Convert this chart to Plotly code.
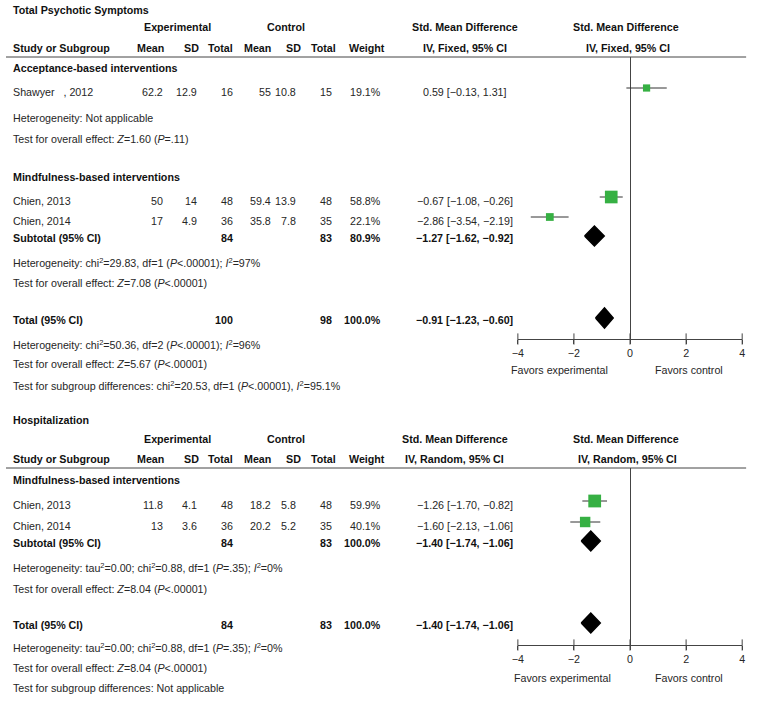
import plotly.graph_objects as go

W, H = 760, 703

# ---------------- DATA: Total Psychotic Symptoms ----------------
p1_title = "Total Psychotic Symptoms"
p1_method = "IV, Fixed, 95% CI"
p1_groups = ["Acceptance-based interventions", "Mindfulness-based interventions"]
p1_study = ["Shawyer\u00a0\u00a0\u00a0, 2012", "Chien, 2013", "Chien, 2014"]
p1_exp_mean = [62.2, 50, 17]
p1_exp_sd = [12.9, 14, 4.9]
p1_exp_n = [16, 48, 36]
p1_ctl_mean = [55, 59.4, 35.8]
p1_ctl_sd = [10.8, 13.9, 7.8]
p1_ctl_n = [15, 48, 35]
p1_weight = [19.1, 58.8, 22.1]
p1_smd = [0.59, -0.67, -2.86]
p1_lo = [-0.13, -1.08, -3.54]
p1_hi = [1.31, -0.26, -2.19]
p1_pool_label = ["Subtotal (95% CI)", "Total (95% CI)"]
p1_pool_exp_n = [84, 100]
p1_pool_ctl_n = [83, 98]
p1_pool_weight = [80.9, 100.0]
p1_pool_smd = [-1.27, -0.91]
p1_pool_lo = [-1.62, -1.23]
p1_pool_hi = [-0.92, -0.60]
p1_notes = [
    "Heterogeneity: Not applicable",
    "Test for overall effect: <i>Z</i>=1.60 (<i>P</i>=.11)",
    "Heterogeneity: chi<sup>2</sup>=29.83, df=1 (<i>P</i>&lt;.00001); <i>I</i><sup>2</sup>=97%",
    "Test for overall effect: <i>Z</i>=7.08 (<i>P</i>&lt;.00001)",
    "Heterogeneity: chi<sup>2</sup>=50.36, df=2 (<i>P</i>&lt;.00001); <i>I</i><sup>2</sup>=96%",
    "Test for overall effect: <i>Z</i>=5.67 (<i>P</i>&lt;.00001)",
    "Test for subgroup differences: chi<sup>2</sup>=20.53, df=1 (<i>P</i>&lt;.00001), <i>I</i><sup>2</sup>=95.1%",
]

# ---------------- DATA: Hospitalization ----------------
p2_title = "Hospitalization"
p2_method = "IV, Random, 95% CI"
p2_groups = ["Mindfulness-based interventions"]
p2_study = ["Chien, 2013", "Chien, 2014"]
p2_exp_mean = [11.8, 13]
p2_exp_sd = [4.1, 3.6]
p2_exp_n = [48, 36]
p2_ctl_mean = [18.2, 20.2]
p2_ctl_sd = [5.8, 5.2]
p2_ctl_n = [48, 35]
p2_weight = [59.9, 40.1]
p2_smd = [-1.26, -1.60]
p2_lo = [-1.70, -2.13]
p2_hi = [-0.82, -1.06]
p2_pool_label = ["Subtotal (95% CI)", "Total (95% CI)"]
p2_pool_exp_n = [84, 84]
p2_pool_ctl_n = [83, 83]
p2_pool_weight = [100.0, 100.0]
p2_pool_smd = [-1.40, -1.40]
p2_pool_lo = [-1.74, -1.74]
p2_pool_hi = [-1.06, -1.06]
p2_notes = [
    "Heterogeneity: tau<sup>2</sup>=0.00; chi<sup>2</sup>=0.88, df=1 (<i>P</i>=.35); <i>I</i><sup>2</sup>=0%",
    "Test for overall effect: <i>Z</i>=8.04 (<i>P</i>&lt;.00001)",
    "Heterogeneity: tau<sup>2</sup>=0.00; chi<sup>2</sup>=0.88, df=1 (<i>P</i>=.35); <i>I</i><sup>2</sup>=0%",
    "Test for overall effect: <i>Z</i>=8.04 (<i>P</i>&lt;.00001)",
    "Test for subgroup differences: Not applicable",
]

col_headers = ["Mean", "SD", "Total", "Mean", "SD", "Total", "Weight"]
axis_ticks = [-4, -2, 0, 2, 4]
favors = ["Favors experimental", "Favors control"]

# ---------------- LAYOUT / STYLE ----------------
FONT = "Arial, 'Liberation Sans', sans-serif"
FS = 10.7
TXT = "#262626"
BLD = "#111111"
GREEN = "#36b043"
LINE = "#444444"

col_right = [160, 194, 231, 269, 294, 331, 380]
col_center = [146, 188, 217, 255, 291, 321, 365]
X_LEFT = 6
PLOT_L, PLOT_R = 518, 745

annotations = []
shapes = []


def px(x):
    return x / W


def py(y):
    return 1 - y / H


def txt(x, y, s, anchor="left", bold=False):
    annotations.append(dict(
        x=px(x), y=py(y), xref="paper", yref="paper", text=("<b>%s</b>" % s) if bold else s,
        showarrow=False, xanchor=anchor, yanchor="middle", borderpad=0,
        font=dict(family=FONT, size=FS, color=BLD if bold else TXT)))


def fnum(v):
    return ("%g" % v).replace("-", "\u2212")


def fci(e, lo, hi):
    return ("%.2f [%.2f, %.2f]" % (e, lo, hi)).replace("-", "\u2212")


fig = go.Figure()


def panel(k, P):
    xa = "x" if k == 1 else "x%d" % k
    ya = "y" if k == 1 else "y%d" % k
    txt(X_LEFT, P["title_y"], P["title"], bold=True)
    txt(174, P["grp_y"], "Experimental", "center", True)
    txt(283, P["grp_y"], "Control", "center", True)
    txt(P["ci_center"], P["grp_y"], "Std. Mean Difference", "center", True)
    txt(627, P["grp_y"], "Std. Mean Difference", "center", True)
    txt(X_LEFT, P["hdr_y"], "Study or Subgroup", bold=True)
    for c, h in zip(col_center, col_headers):
        txt(c, P["hdr_y"], h, "center", True)
    txt(P["ci_center"], P["hdr_y"], P["method"], "center", True)
    txt(629, P["hdr_y"], P["method"], "center", True)
    shapes.append(dict(type="line", xref="paper", yref="paper", x0=0, x1=px(749),
                       y0=py(P["line_y"]), y1=py(P["line_y"]), line=dict(color=LINE, width=1)))
    for g, gy in zip(P["groups"], P["group_y"]):
        txt(X_LEFT, gy, g, bold=True)
    for i, s in enumerate(P["study"]):
        y = P["study_y"][i]
        txt(X_LEFT, y, s)
        vals = [P["em"][i], P["es"][i], P["en"][i], P["cm"][i], P["cs"][i], P["cn"][i]]
        for c, v in zip(col_right[:6], vals):
            txt(c, y, fnum(v), "right")
        txt(col_right[6], y, "%.1f%%" % P["w"][i], "right")
        txt(464, y, fci(P["smd"][i], P["lo"][i], P["hi"][i]), "center")
    for i, s in enumerate(P["pool_label"]):
        y = P["pool_y"][i]
        txt(X_LEFT, y, s, bold=True)
        txt(col_right[2], y, fnum(P["pen"][i]), "right", True)
        txt(col_right[5], y, fnum(P["pcn"][i]), "right", True)
        txt(col_right[6], y, "%.1f%%" % P["pw"][i], "right", True)
        txt(464, y, fci(P["psmd"][i], P["plo"][i], P["phi"][i]), "center", True)
    for n, ny in zip(P["notes"], P["notes_y"]):
        txt(X_LEFT, ny, n)

    my = [y - 4 for y in P["study_y"]]
    fig.add_trace(go.Scatter(
        x=P["smd"], y=my, mode="markers", xaxis=xa, yaxis=ya, cliponaxis=False,
        marker=dict(symbol="square", color=GREEN, opacity=1,
                    size=[1.65 * w ** 0.5 for w in P["w"]], line=dict(width=0)),
        error_x=dict(type="data", symmetric=False,
                     array=[h - e for h, e in zip(P["hi"], P["smd"])],
                     arrayminus=[e - l for e, l in zip(P["smd"], P["lo"])],
                     color="#333333", thickness=1, width=0),
        showlegend=False, hoverinfo="skip"))
    for i in range(len(P["psmd"])):
        r = P["pool_y"][i] - 2
        hh = 10
        fig.add_trace(go.Scatter(
            x=[P["plo"][i], P["psmd"][i], P["phi"][i], P["psmd"][i], P["plo"][i]],
            y=[r, r - hh, r, r + hh, r], mode="lines", fill="toself",
            fillcolor="black", line=dict(color="black", width=1.5),
            xaxis=xa, yaxis=ya, showlegend=False, hoverinfo="skip", cliponaxis=False))
    fig.add_trace(go.Scatter(
        x=axis_ticks, y=[P["axis_y"]] * len(axis_ticks), mode="markers", xaxis=xa, yaxis=ya,
        cliponaxis=False, marker=dict(symbol="line-ns", size=8, line=dict(color=LINE, width=1)),
        showlegend=False, hoverinfo="skip"))
    ax = dict(domain=[px(PLOT_L), px(PLOT_R)], range=[-4, 4], anchor=ya, showline=True,
              linecolor=LINE, linewidth=1, ticks="outside", ticklen=4, tickcolor=LINE,
              tickvals=axis_ticks, showgrid=False, zeroline=True, zerolinecolor=LINE,
              zerolinewidth=1, tickfont=dict(family=FONT, size=FS, color=TXT), fixedrange=True)
    ay = dict(domain=[py(P["axis_y"]), py(P["line_y"])], range=[P["axis_y"], P["line_y"]],
              anchor=xa, visible=False, fixedrange=True)
    fig.layout["xaxis" if k == 1 else "xaxis%d" % k] = ax
    fig.layout["yaxis" if k == 1 else "yaxis%d" % k] = ay
    for fx, f in zip(P["fav_x"], favors):
        annotations.append(dict(x=fx, y=py(P["fav_y"]), xref=xa, yref="paper", text=f,
                                showarrow=False, xanchor="center", yanchor="middle",
                                font=dict(family=FONT, size=FS, color=TXT)))


panel(1, dict(
    title=p1_title, method=p1_method, groups=p1_groups, study=p1_study,
    em=p1_exp_mean, es=p1_exp_sd, en=p1_exp_n, cm=p1_ctl_mean, cs=p1_ctl_sd, cn=p1_ctl_n,
    w=p1_weight, smd=p1_smd, lo=p1_lo, hi=p1_hi, pool_label=p1_pool_label,
    pen=p1_pool_exp_n, pcn=p1_pool_ctl_n, pw=p1_pool_weight, psmd=p1_pool_smd,
    plo=p1_pool_lo, phi=p1_pool_hi, notes=p1_notes,
    title_y=10, grp_y=27, hdr_y=48, line_y=57, group_y=[68, 177], study_y=[92, 201, 221],
    pool_y=[238, 320], notes_y=[118, 139, 262, 283, 344, 364, 385], axis_y=339, fav_y=370,
    fav_x=[-2.5, 2.1], ci_center=464))

panel(2, dict(
    title=p2_title, method=p2_method, groups=p2_groups, study=p2_study,
    em=p2_exp_mean, es=p2_exp_sd, en=p2_exp_n, cm=p2_ctl_mean, cs=p2_ctl_sd, cn=p2_ctl_n,
    w=p2_weight, smd=p2_smd, lo=p2_lo, hi=p2_hi, pool_label=p2_pool_label,
    pen=p2_pool_exp_n, pcn=p2_pool_ctl_n, pw=p2_pool_weight, psmd=p2_pool_smd,
    plo=p2_pool_lo, phi=p2_pool_hi, notes=p2_notes,
    title_y=420, grp_y=439, hdr_y=459, line_y=468, group_y=[480], study_y=[505, 526],
    pool_y=[543, 625], notes_y=[567, 589, 647, 668, 688], axis_y=645, fav_y=678,
    fav_x=[-2.4, 2.1], ci_center=454))

fig.update_layout(
    width=W, height=H, margin=dict(l=0, r=0, t=0, b=0),
    paper_bgcolor="white", plot_bgcolor="white",
    annotations=annotations, shapes=shapes, showlegend=False,
    font=dict(family=FONT, size=FS, color=TXT))

fig.write_html("out.html", config={"displayModeBar": False},
               post_script="document.body.style.margin='0';")
